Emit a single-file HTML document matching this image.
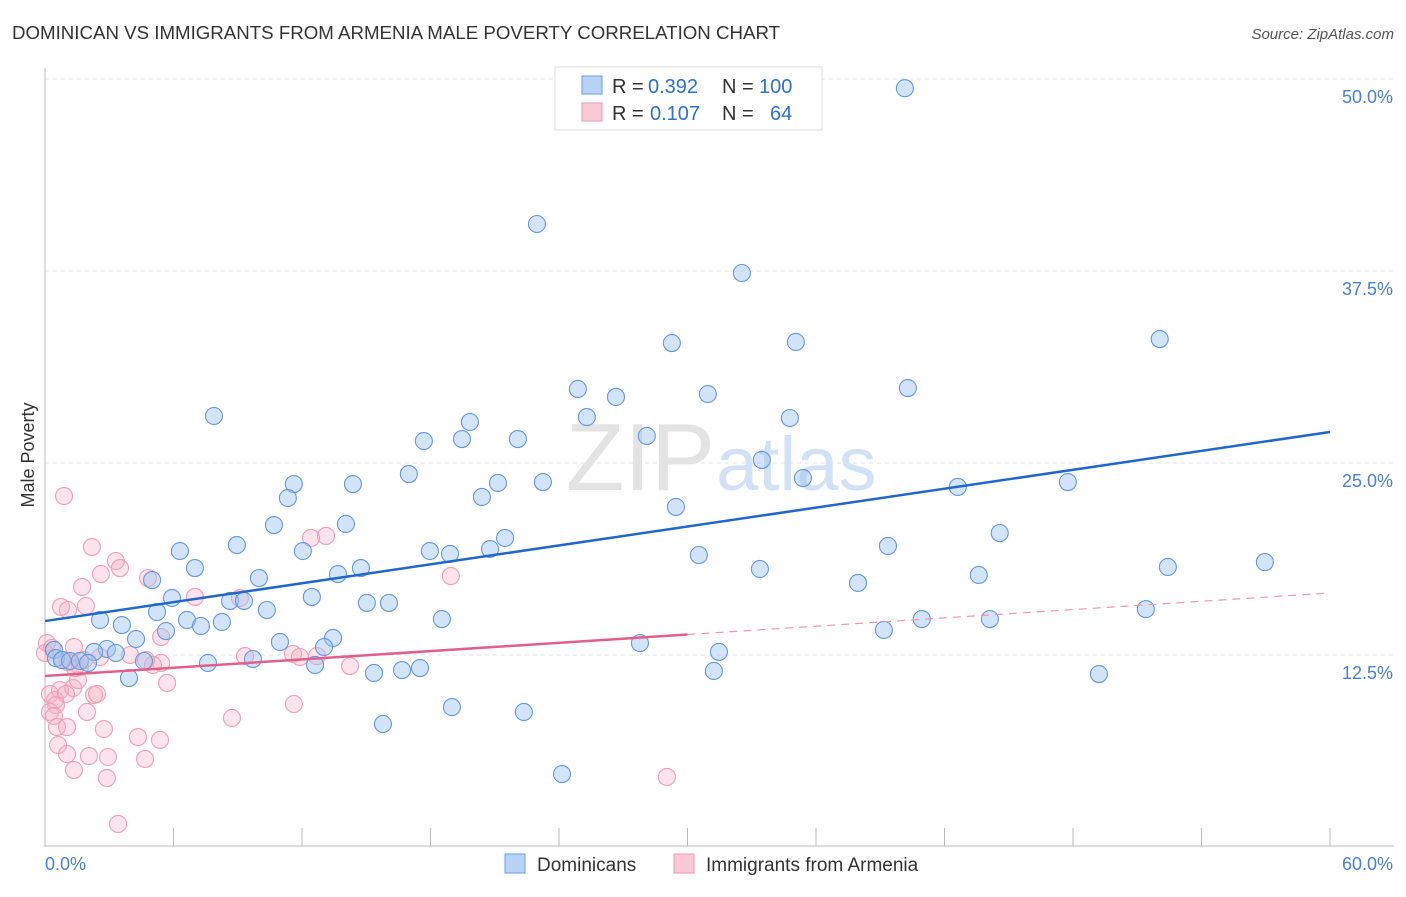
<!DOCTYPE html>
<html><head><meta charset="utf-8"><style>
body{margin:0;background:#fff;font-family:"Liberation Sans",sans-serif;}
svg text{font-family:"Liberation Sans",sans-serif;}
</style></head><body>
<svg id="chart" width="1406" height="892">
<text x="12" y="39" font-size="18.7" fill="#333">DOMINICAN VS IMMIGRANTS FROM ARMENIA MALE POVERTY CORRELATION CHART</text>
<text x="1394" y="39" font-size="15" fill="#555" text-anchor="end" font-style="italic">Source: ZipAtlas.com</text>
<text x="715" y="490" font-size="96" fill="#ddd" text-anchor="end" font-family="Liberation Serif" opacity="0.8">ZIP</text>
<text x="716" y="490" font-size="76" fill="#c8daf2" opacity="0.8">atlas</text>
<g id="grid"></g>
<g id="axes"></g>
<g id="pts"></g>
<g id="trends"></g>
<text x="34" y="455" font-size="18" fill="#333" text-anchor="middle" transform="rotate(-90 34 455)">Male Poverty</text>
<g>
<rect x="555" y="67" width="267" height="63" fill="#fff" stroke="#ddd"/>
<rect x="582" y="76" width="20" height="18" fill="#b8d3f5" stroke="#6a9ee0"/>
<rect x="582" y="103" width="20" height="18" fill="#fbc8d6" stroke="#eb9ab2"/>
<text x="612" y="93" font-size="20" fill="#333">R =</text>
<text x="648" y="93" font-size="20" fill="#2f6fd0">0.392</text>
<text x="722" y="93" font-size="20" fill="#333">N =</text>
<text x="759" y="93" font-size="20" fill="#2f6fd0">100</text>
<text x="612" y="120" font-size="20" fill="#333">R =</text>
<text x="650" y="120" font-size="20" fill="#2f6fd0">0.107</text>
<text x="722" y="120" font-size="20" fill="#333">N =</text>
<text x="770" y="120" font-size="20" fill="#2f6fd0">64</text>
</g>
<g>
<rect x="505" y="854" width="20" height="19" fill="#b8d3f5" stroke="#6a9ee0"/>
<text x="537" y="871" font-size="19" fill="#333">Dominicans</text>
<rect x="674" y="854" width="20" height="19" fill="#fbc8d6" stroke="#eb9ab2"/>
<text x="706" y="871" font-size="19" fill="#333">Immigrants from Armenia</text>
</g>
</svg>
<script>
const yTicks=[12.5,25,37.5,50];
const yTickLabels=["12.5%","25.0%","37.5%","50.0%"];
const xTicks=[0,6,12,18,24,30,36,42,48,54,60];
const blueX=[40.15,22.97,32.54,52.05,29.27,35.06,24.88,40.29,26.66,30.95,7.89,25.30,34.78,19.84,17.69,19.47,22.08,28.10,33.47,16.99,35.39,11.62,14.38,21.15,23.25,47.76,42.62,11.34,20.40,29.46,10.69,14.05,44.58,21.48,6.30,8.96,12.04,17.97,18.91,20.78,39.36,30.53,7.00,14.75,52.43,56.96,33.38,13.68,9.99,5.00,43.60,37.96,5.93,12.46,8.64,9.29,15.03,16.06,5.23,10.36,51.40,2.57,6.63,18.53,40.94,44.12,3.59,7.28,8.26,5.65,39.17,4.25,13.45,10.97,27.78,13.03,0.42,2.89,2.29,3.31,31.47,0.51,0.79,1.17,1.63,2.01,4.62,9.71,12.61,7.61,17.51,15.36,16.67,31.23,49.21,3.92,19.00,22.36,15.78,24.14];
const blueY=[49.4,40.56,37.37,33.07,32.81,32.88,29.82,29.88,29.30,29.49,28.06,27.99,27.93,27.67,26.43,26.56,26.56,26.76,25.20,24.28,24.02,23.63,23.63,23.70,23.76,23.76,23.44,22.72,22.79,22.14,20.96,21.03,20.44,20.12,19.27,19.66,19.27,19.27,19.08,19.40,19.60,19.01,18.16,18.16,18.23,18.55,18.10,17.77,17.51,17.38,17.71,17.19,16.21,16.28,16.02,16.02,15.89,15.89,15.30,15.43,15.49,14.78,14.78,14.84,14.84,14.84,14.45,14.39,14.65,14.06,14.13,13.54,13.61,13.35,13.28,13.02,12.83,12.89,12.70,12.63,12.70,12.30,12.17,12.11,12.11,11.98,12.11,12.24,11.85,11.98,11.65,11.33,11.52,11.46,11.26,11.00,9.11,8.79,8.01,4.75];
const pinkX=[0.89,2.19,3.31,2.61,13.12,12.42,4.81,3.50,1.73,7.00,0.75,1.07,1.91,18.95,9.10,0.09,0.33,1.35,2.57,3.97,5.42,5.42,5.04,4.72,9.34,11.58,11.90,12.70,14.24,1.07,1.63,0.70,1.31,2.29,1.54,0.23,0.47,0.98,5.70,0.51,0.23,1.96,0.42,0.56,2.75,8.73,11.62,1.03,0.61,4.34,5.37,2.05,1.03,2.94,4.67,1.35,2.89,29.04,3.41,2.43,1.40,1.82,0.84,0.00];
const pinkY=[22.85,19.53,18.62,17.77,20.25,20.12,17.51,18.16,16.93,16.28,15.63,15.43,15.69,17.64,16.21,13.28,12.96,13.02,12.37,12.50,13.67,11.98,11.85,12.17,12.43,12.57,12.37,12.43,11.78,12.04,11.72,10.22,10.35,9.90,10.87,9.96,9.57,9.96,10.68,9.24,8.79,8.79,8.53,7.81,7.68,8.40,9.31,7.81,6.64,7.16,6.97,5.92,6.05,5.86,5.73,5.01,4.49,4.56,1.50,9.96,11.65,12.17,12.17,12.63];
const blueTrend=[14.71,27.02];
const pinkTrend=[11.13,16.54];
const NS='http://www.w3.org/2000/svg';
const sx=v=>45+v*(1285/60);
const sy=v=>847-v*15.36;
function mk(tag,attrs,parent){const e=document.createElementNS(NS,tag);for(const k in attrs)e.setAttribute(k,attrs[k]);parent.appendChild(e);return e;}
const grid=document.getElementById('grid'),axes=document.getElementById('axes'),pts=document.getElementById('pts'),tr=document.getElementById('trends');
yTicks.forEach((t,i)=>{
 const l=mk('line',{x1:45,x2:1394,y1:sy(t),y2:sy(t),stroke:'#e2e2e2','stroke-dasharray':'4,4'},grid);
 
 
 const tx=mk('text',{x:1393,y:sy(t)+24,'font-size':18,fill:'#4a7fd6','text-anchor':'end'},axes);
 tx.textContent=yTickLabels[i];
 
 
});
mk('line',{x1:45,x2:45,y1:68,y2:847,stroke:'#bbb'},axes);
mk('line',{x1:45,x2:1394,y1:846,y2:846,stroke:'#bbb'},axes);
xTicks.forEach(t=>{
 const l=mk('line',{x1:sx(t),x2:sx(t),y1:828,y2:846,stroke:'#bbb'},axes);
 
 
});
const xl0=mk('text',{x:45,y:870,'font-size':18,fill:'#4a7fd6'},axes);xl0.textContent='0.0%';


const xl1=mk('text',{x:1393,y:870,'font-size':18,fill:'#4a7fd6','text-anchor':'end'},axes);xl1.textContent='60.0%';


pinkX.forEach((x,i)=>{
 const c=mk('circle',{cx:sx(x),cy:sy(pinkY[i]),r:8.5,fill:'rgba(248,175,198,0.35)',stroke:'#ee9fb7','stroke-width':1.1},pts);
 
 
});
blueX.forEach((x,i)=>{
 const c=mk('circle',{cx:sx(x),cy:sy(blueY[i]),r:8.5,fill:'rgba(160,196,240,0.45)',stroke:'#6597dc','stroke-width':1.1},pts);
 
 
});
const b=mk('line',{x1:sx(0),y1:sy(blueTrend[0]),x2:sx(60),y2:sy(blueTrend[1]),stroke:'#2166cc','stroke-width':2.5},tr);


const pm=pinkTrend[0]+(pinkTrend[1]-pinkTrend[0])*0.5;
const p1=mk('line',{x1:sx(0),y1:sy(pinkTrend[0]),x2:sx(30),y2:sy(pm),stroke:'#e0608a','stroke-width':2.5},tr);


const p2=mk('line',{x1:sx(30),y1:sy(pm),x2:sx(60),y2:sy(pinkTrend[1]),stroke:'#eb9ab2','stroke-width':1.2,'stroke-dasharray':'8,6'},tr);


</script>
</body></html>
